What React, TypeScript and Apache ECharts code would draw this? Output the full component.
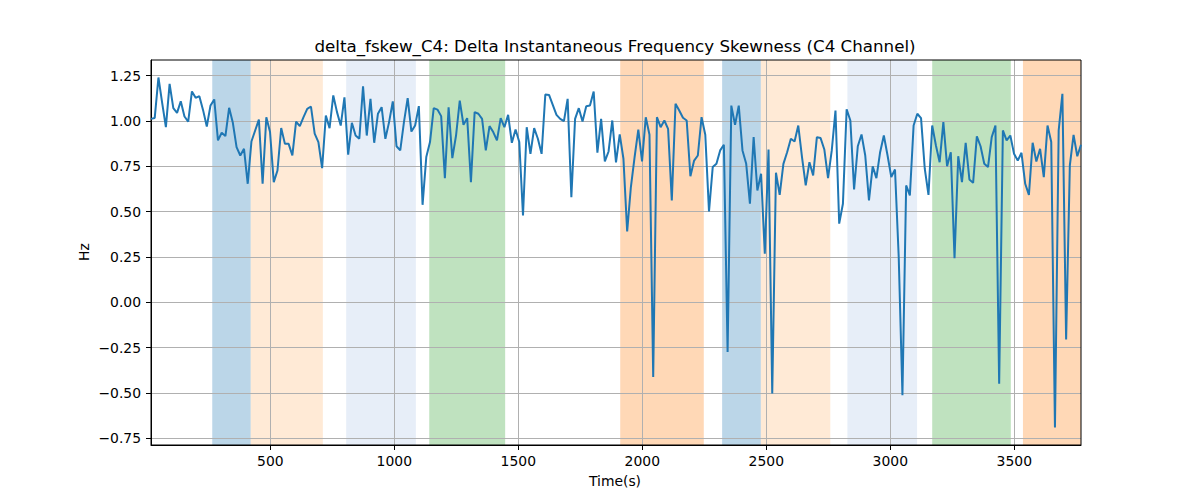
import { useEffect, useRef } from 'react';
import * as echarts from 'echarts';

const T0 = 19;
const DT = 15;

const values: number[] = [
  1.012, 1.017, 1.24, 1.10, 0.966, 1.205, 1.071, 1.045, 1.109, 1.025,
  0.997, 1.163, 1.128, 1.137, 1.06, 0.97, 1.086, 1.119, 0.893, 0.935,
  0.917, 1.073, 0.99, 0.856, 0.81, 0.847, 0.654, 0.887, 0.948, 1.008,
  0.654, 1.021, 0.939, 0.663, 0.727, 0.961, 0.874, 0.874, 0.81, 0.997,
  0.972, 1.021, 1.067, 1.08, 0.93, 0.884, 0.74, 1.03, 0.961, 1.141,
  1.049, 0.975, 1.131, 0.814, 0.99, 0.92, 0.902, 1.192, 0.92, 1.122,
  0.88, 1.04, 1.076, 0.902, 0.994, 1.108, 0.861, 0.838, 0.994, 1.126,
  0.942, 0.975, 1.082, 0.538, 0.801, 0.884, 1.071, 1.063, 1.027, 0.685,
  1.076, 0.795, 0.92, 1.113, 0.979, 1.016, 0.663, 1.049, 1.04, 1.012,
  0.838, 0.972, 0.939, 0.893, 1.016, 0.966, 1.034, 0.88, 0.953, 0.884,
  0.479, 0.966, 0.819, 0.961, 0.902, 0.819, 1.146, 1.144, 1.089, 1.034,
  1.012, 0.999, 1.122, 0.58, 1.012, 1.071, 0.997, 1.082, 1.085, 1.163,
  0.825, 1.012, 0.777, 0.832, 1.003, 0.772, 0.926, 0.792, 0.391, 0.636,
  0.801, 0.953, 0.777, 1.021, 0.924, -0.411, 1.021, 0.966, 1.003, 0.957,
  0.562, 1.095, 1.058, 1.018, 1.003, 0.696, 0.782, 0.81, 1.021, 0.924,
  0.501, 0.746, 0.764, 0.838, 0.869, -0.273, 1.085, 0.979, 1.085, 0.838,
  0.764, 0.544, 0.911, 0.617, 0.709, 0.268, 0.843, -0.503, 0.715, 0.593,
  0.764, 0.828, 0.902, 0.887, 0.975, 0.801, 0.645, 0.773, 0.70, 0.911,
  0.906, 0.843, 0.685, 0.838, 1.058, 0.434, 0.544, 1.065, 1.003, 0.623,
  0.861, 0.926, 0.81, 0.562, 0.75, 0.685, 0.828, 0.92, 0.81, 0.691,
  0.733, 0.25, -0.512, 0.645, 0.59, 0.975, 1.04, 1.016, 0.737, 0.593,
  0.975, 0.865, 0.773, 0.994, 0.751, 0.828, 0.244, 0.806, 0.663, 0.88,
  0.678, 0.659, 0.915, 0.861, 0.764, 0.746, 0.911, 0.975, -0.448, 0.948,
  0.893, 0.92, 0.819, 0.782, 0.825, 0.654, 0.593, 0.88, 0.777, 0.847,
  0.691, 0.975, 0.884, -0.69, 0.948, 1.15, -0.204, 0.755, 0.924, 0.806,
  0.869,
];

const bandStart = [266, 421, 806, 1141, 1911, 2322, 2478, 2827, 3169, 3535];
const bandEnd = [421, 712, 1087, 1447, 2248, 2478, 2758, 3108, 3486, 3769];
const bandColor = [
  'rgba(31,119,180,0.3)',
  'rgba(255,187,120,0.3)',
  'rgba(174,199,232,0.3)',
  'rgba(44,160,44,0.3)',
  'rgba(255,127,14,0.3)',
  'rgba(31,119,180,0.3)',
  'rgba(255,187,120,0.3)',
  'rgba(174,199,232,0.3)',
  'rgba(44,160,44,0.3)',
  'rgba(255,127,14,0.3)',
];

const xTicks = [500, 1000, 1500, 2000, 2500, 3000, 3500];
const yTicks = [-0.75, -0.5, -0.25, 0, 0.25, 0.5, 0.75, 1.0, 1.25];

const TITLE = 'delta_fskew_C4: Delta Instantaneous Frequency Skewness (C4 Channel)';
const XLABEL = 'Time(s)';
const YLABEL = 'Hz';

const FONT = 'DejaVu Sans';

export default function App() {
  const ref = useRef<HTMLDivElement>(null);
  useEffect(() => {
    if (!ref.current) return;
    const chart = echarts.init(ref.current, undefined, { renderer: 'svg' });
    const lineData = values.map((v, i) => [T0 + DT * i, v]);
    const xMin = T0;
    const xMax = T0 + DT * (values.length - 1);
    const vMin = Math.min(...values);
    const vMax = Math.max(...values);
    const pad = (vMax - vMin) * 0.05;
    const fmtY = (v: number) => v.toFixed(2).replace('-', '\u2212');

    chart.setOption({
      animation: false,
      backgroundColor: '#ffffff',
      textStyle: { fontFamily: FONT },
      grid: {
        left: 151,
        right: 119,
        top: 60,
        bottom: 55,
        show: true,
        borderColor: '#000000',
        borderWidth: 1,
        backgroundColor: 'transparent',
        z: 4,
      },
      graphic: [
        {
          type: 'text',
          left: undefined,
          x: 615,
          y: 46,
          style: {
            text: TITLE,
            fontFamily: FONT,
            fontSize: 16.7,
            fill: '#000',
            align: 'center',
            verticalAlign: 'middle',
          },
        },
        {
          type: 'text',
          x: 615,
          y: 481,
          style: {
            text: XLABEL,
            fontFamily: FONT,
            fontSize: 13.9,
            fill: '#000',
            align: 'center',
            verticalAlign: 'middle',
          },
        },
        {
          type: 'text',
          x: 84,
          y: 252,
          rotation: Math.PI / 2,
          style: {
            text: YLABEL,
            fontFamily: FONT,
            fontSize: 13.9,
            fill: '#000',
            align: 'center',
            verticalAlign: 'middle',
          },
        },
      ],
      xAxis: {
        type: 'value',
        min: xMin,
        max: xMax,
        z: 3,
        axisLine: { show: true, onZero: false, lineStyle: { color: '#000', width: 1 } },
        axisTick: { show: true, length: 5, customValues: xTicks, lineStyle: { color: '#000', width: 1 } },
        axisLabel: {
          customValues: xTicks,
          color: '#000',
          fontFamily: FONT,
          fontSize: 13.9,
          margin: 9,
          formatter: (v: number) => String(v),
        },
        splitLine: { show: true, lineStyle: { color: '#b0b0b0', width: 1 } },
      },
      yAxis: {
        type: 'value',
        min: vMin - pad,
        max: vMax + pad,
        z: 3,
        axisLine: { show: true, lineStyle: { color: '#000', width: 1 } },
        axisTick: { show: true, length: 5, customValues: yTicks, lineStyle: { color: '#000', width: 1 } },
        axisLabel: {
          customValues: yTicks,
          color: '#000',
          fontFamily: FONT,
          fontSize: 13.9,
          margin: 10,
          formatter: fmtY,
        },
        splitLine: { show: true, lineStyle: { color: '#b0b0b0', width: 1 } },
      },
      series: [
        {
          type: 'line',
          z: 1,
          data: [],
          silent: true,
          markArea: {
            silent: true,
            data: bandStart.map((s, i) => [
              { xAxis: s, itemStyle: { color: bandColor[i] } },
              { xAxis: bandEnd[i] },
            ]),
          },
        },
        {
          type: 'line',
          z: 5,
          data: lineData,
          showSymbol: false,
          symbol: 'none',
          lineStyle: { color: '#1f77b4', width: 2 },
          itemStyle: { color: '#1f77b4' },
        },
      ],
    });
    return () => chart.dispose();
  }, []);
  return (
    <div
      ref={ref}
      style={{ position: 'absolute', left: 0, top: 0, width: 1200, height: 500 }}
    />
  );
}
